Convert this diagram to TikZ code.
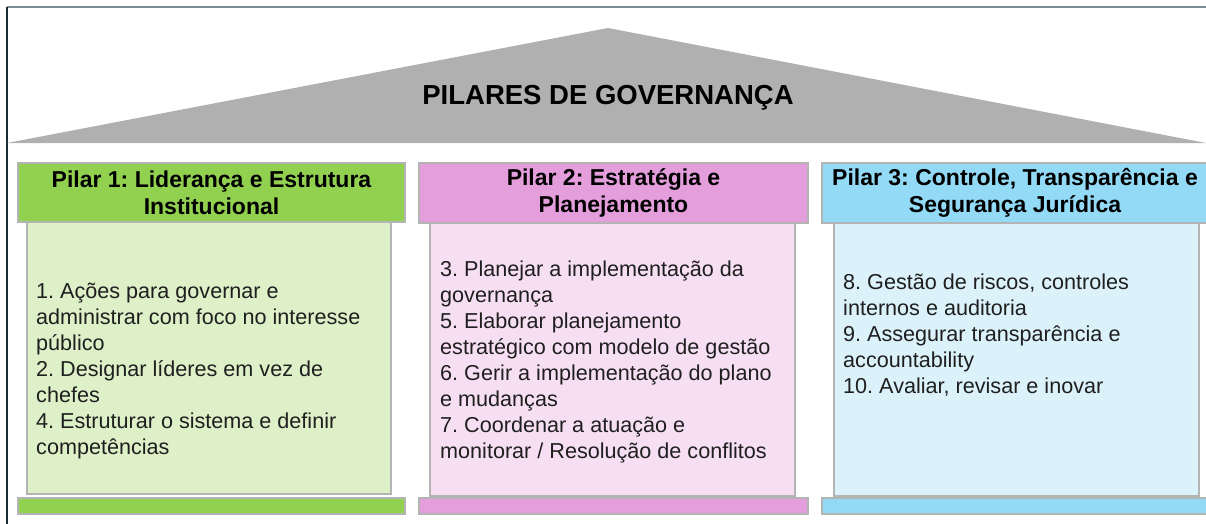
\documentclass[tikz,border=0pt]{standalone}
\usepackage{fontspec}
\setmainfont{Liberation Sans}
\definecolor{roofgray}{HTML}{B0B0B0}
\definecolor{edgegray}{HTML}{B4B4B4}
\definecolor{topline}{HTML}{7C8C96}
\definecolor{leftline}{HTML}{1B2B33}
\definecolor{greenH}{HTML}{92D050}
\definecolor{greenB}{HTML}{DDF0C8}
\definecolor{pinkH}{HTML}{E49EDC}
\definecolor{pinkB}{HTML}{F7DFF3}
\definecolor{blueH}{HTML}{93DAF6}
\definecolor{blueB}{HTML}{DCF2FB}
\frenchspacing
\begin{document}
\begin{tikzpicture}[x=1pt,y=-1pt,
  box/.style={draw=edgegray, line width=2pt, inner sep=0pt, anchor=north west},
  headtext/.style={font=\fontsize{23}{27}\selectfont\bfseries, align=center, text=black},
  bodytext/.style={font=\fontsize{21.6}{26}\selectfont, align=left, anchor=west, inner sep=0pt, text=black!88}]
\useasboundingbox (0,0) rectangle (1206,524);
% frame lines
\coordinate (tl) at (7,7.5);
\coordinate (tr) at (1206,7.5);
\coordinate (bl) at (7,524);
\draw[topline, line width=2pt] (tl) -- (tr);
\draw[leftline, line width=1.5pt] (tl) -- (bl);
% roof
\coordinate (apex) at (608,28);
\coordinate (rl) at (7,143);
\coordinate (rr) at (1206,143);
\fill[roofgray] (rl) -- (apex) -- (rr) -- cycle;
\node[font=\fontsize{27.5}{32}\selectfont\bfseries] (title) at (608,98) {PILARES DE GOVERNANÇA};
% pillar 1
\path (26,221) node[box, fill=greenB, minimum width=364pt, minimum height=272pt] (b1) {};
\path (17,162) node[box, fill=greenH, minimum width=387pt, minimum height=59pt] (h1) {};
\node[headtext] (t1) at (h1.center) {Pilar 1: Liderança e Estrutura\\Institucional};
\path (17,497) node[box, fill=greenH, minimum width=387pt, minimum height=16pt] (f1) {};
\node[bodytext] (x1) at (36,370.5) {1. Ações para governar e\\administrar com foco no interesse\\público\\2. Designar líderes em vez de\\chefes\\4. Estruturar o sistema e definir\\competências};
% pillar 2
\path (429,222) node[box, fill=pinkB, minimum width=365pt, minimum height=273pt] (b2) {};
\path (418,162) node[box, fill=pinkH, minimum width=389pt, minimum height=60pt] (h2) {};
\node[headtext] (t2) at (h2.center) {Pilar 2: Estratégia e\\Planejamento};
\path (418,497) node[box, fill=pinkH, minimum width=389pt, minimum height=16pt] (f2) {};
\node[bodytext] (x2) at (440,362) {3. Planejar a implementação da\\governança\\5. Elaborar planejamento\\estratégico com modelo de gestão\\6. Gerir a implementação do plano\\e mudanças\\7. Coordenar a atuação e\\monitorar / Resolução de conflitos};
% pillar 3
\path (833,222) node[box, fill=blueB, minimum width=365pt, minimum height=273pt] (b3) {};
\path (821,162) node[box, fill=blueH, minimum width=386pt, minimum height=60pt] (h3) {};
\node[headtext] (t3) at (h3.center) {Pilar 3: Controle, Transparência e\\Segurança Jurídica};
\path (821,497) node[box, fill=blueH, minimum width=386pt, minimum height=16pt] (f3) {};
\node[bodytext] (x3) at (843,335) {8. Gestão de riscos, controles\\internos e auditoria\\9. Assegurar transparência e\\accountability\\10. Avaliar, revisar e inovar};
\end{tikzpicture}
\end{document}
